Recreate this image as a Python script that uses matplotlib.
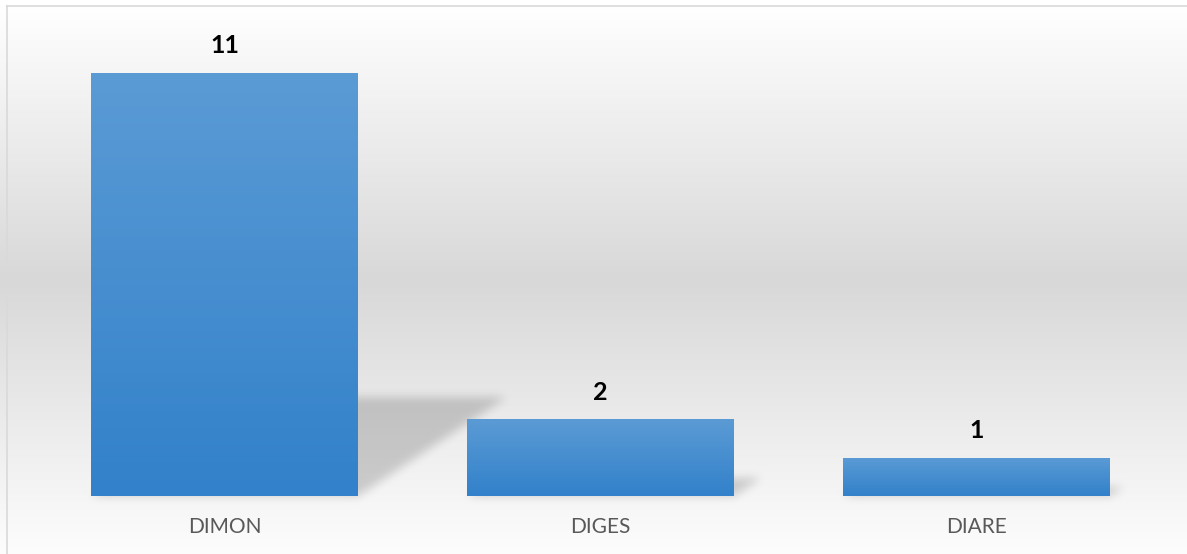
import numpy as np
import matplotlib
matplotlib.use('Agg')
import matplotlib.pyplot as plt
from matplotlib.path import Path
from matplotlib.colors import to_rgb
from matplotlib.lines import Line2D

categories = ['DIMON', 'DIGES', 'DIARE']
values = [11, 2, 1]

W, H = 1187, 554
plt.rcParams['font.family'] = ['Lato', 'DejaVu Sans']

fig = plt.figure(figsize=(W / 100, H / 100), dpi=100)
ax = fig.add_axes([0, 0, 1, 1])
ax.set_axis_off()

# scale: 376 px per category, 38.5 px per unit, baseline 58 px above bottom
ax.set_xlim(-224.5 / 376, (W - 224.5) / 376)
ax.set_ylim(-58 / 38.5, (H - 58) / 38.5)
xlim, ylim = ax.get_xlim(), ax.get_ylim()
x = np.arange(len(categories))
bar_w = 0.71

# background: white -> gray -> white
rows = np.arange(H)[::-1] + 0.5  # pixel from top, for origin='lower'
t = (rows - 6) / (H - 6)
g = np.interp(t, [0, 0.5, 1], [255, 216, 253]) / 255
bg = np.repeat(g[:, None, None], 3, axis=2)
ax.imshow(bg, extent=(*xlim, *ylim), origin='lower', aspect='auto', zorder=0)

# soft floor shadow behind each bar
xs = np.arange(W) + 0.5
ys = np.arange(H) + 0.5
XX, YY = np.meshgrid(xs, ys)
pts = np.column_stack([XX.ravel(), YY.ravel()])
mask = np.zeros(H * W)
for xi, v in zip(x, values):
    (xl, yb), (xr, yt) = ax.transData.transform([(xi - bar_w / 2, 0), (xi + bar_w / 2, v)])
    sh = 0.234 * (yt - yb)
    s = 1.5 * sh
    poly = Path([(xl, yb), (xr, yb), (xr + s, yb + sh), (xl + s, yb + sh), (xl, yb)])
    mask = np.maximum(mask, poly.contains_points(pts).astype(float))
mask = mask.reshape(H, W)

def blur(a, r):
    k = np.ones(2 * r + 1) / (2 * r + 1)
    for _ in range(3):
        a = np.apply_along_axis(lambda m: np.convolve(m, k, mode='same'), 1, a)
        a = np.apply_along_axis(lambda m: np.convolve(m, k, mode='same'), 0, a)
    return a

mask = blur(mask, 4)
shadow = np.zeros((H, W, 4))
shadow[..., 3] = mask * 0.17
ax.imshow(shadow, extent=(*xlim, *ylim), origin='lower', aspect='auto', zorder=1)

# bars with vertical gradient
top_c = np.array(to_rgb('#5b9bd5'))
bot_c = np.array(to_rgb('#3281ca'))
grad = np.linspace(0, 1, 100)[:, None, None]
grad_img = bot_c + (top_c - bot_c) * grad
bars = ax.bar(x, values, width=bar_w, color='#4a90d2', zorder=2)
for b in bars:
    im = ax.imshow(grad_img, extent=(b.get_x(), b.get_x() + b.get_width(), 0, b.get_height()),
                   origin='lower', aspect='auto', zorder=3)
    im.set_clip_path(b)

ax.set_xlim(xlim)
ax.set_ylim(ylim)

for xi, v in zip(x, values):
    ax.annotate(str(v), (xi, v), xytext=(0, 27), textcoords='offset pixels',
                ha='center', va='center', fontsize=18, fontweight='bold', color='black', zorder=4)

for xi, c in zip(x, categories):
    ax.annotate(c, (xi, 0), xytext=(0, -31), textcoords='offset pixels',
                ha='center', va='center', fontsize=15, color='#595959', zorder=4)

# chart border (top and left visible)
fig.add_artist(Line2D([6.5 / W, 1], [1 - 6 / H, 1 - 6 / H], transform=fig.transFigure, color='#d9d9d9', lw=1.2))
fig.add_artist(Line2D([6.5 / W, 6.5 / W], [0, 1 - 6 / H], transform=fig.transFigure, color='#d9d9d9', lw=1.2))

fig.savefig('out.png', dpi=100)
